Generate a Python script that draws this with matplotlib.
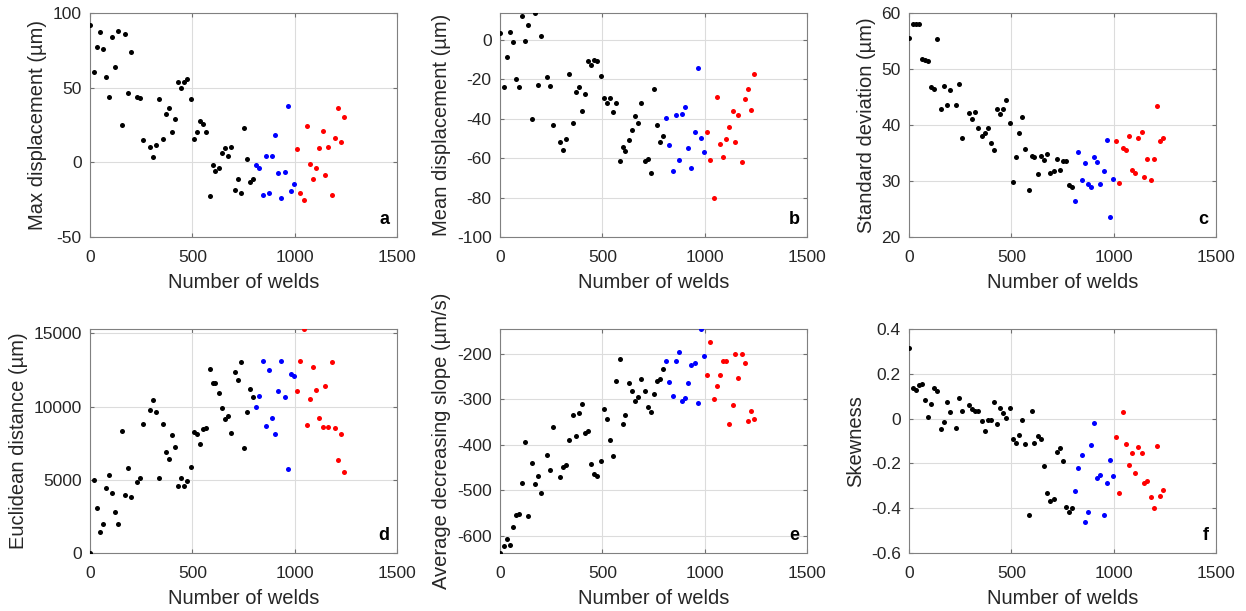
import matplotlib
matplotlib.use("Agg")
import matplotlib.pyplot as plt
from matplotlib.ticker import FormatStrFormatter

plt.rcParams['font.family'] = ['Liberation Sans', 'DejaVu Sans']
plt.rcParams['axes.unicode_minus'] = False

# weld counts: first 51 black, next 13 blue, last 16 red
welds = [0, 18, 33, 48, 63, 78, 93, 108, 123, 138, 157, 172, 186, 201, 231, 246, 261,
         293, 309, 324, 339, 355, 369, 384, 399, 413, 431, 446, 461, 476, 492, 507, 522,
         538, 552, 569, 584, 599, 613, 630, 643, 659, 675, 690, 708, 722, 737, 753, 768,
         783, 798,
         812, 827, 845, 861, 876, 890, 905, 920, 935, 951, 966, 982, 998,
         1013, 1028, 1044, 1059, 1074, 1088, 1103, 1119, 1136, 1150, 1165, 1181, 1196,
         1211, 1227, 1242]
n_black, n_blue = 51, 13

max_disp = [92, 60.8, 77, 87, 75.8, 57.3, 43.5, 84.2, 63.8, 87.8, 24.9, 86.1, 46.1, 74,
            43.9, 42.9, 15, 10.3, 3.7, 11.4, 42.2, 15.3, 32.5, 36.2, 20, 28.9, 53.8, 49.7,
            54, 55.8, 42.7, 15.8, 20.5, 27.8, 25.5, 20.5, -22.6, -1.8, -5.7, -3.6, 6.5,
            9.4, 4.3, 10.4, -18.8, -11.2, -20.7, 22.8, 2.3, -13, -11,
            -1.9, -3.7, -21.6, 4, -20.5, 4.4, 18.5, -7, -23.8, -6.4, 38, -18.9, -14.4,
            8.7, -20.5, -25.2, 24.6, -1.2, -11, -3.7, 9.4, 20.9, -8.6, 10.2, -22.2, 16,
            36.6, 13.8, 30.6]

mean_disp = [3.4, -23.8, -8.6, 3.7, -1.2, -19.9, -24.2, 11.8, -0.7, 7.4, -40.4, 13.5, -23,
             2, -18.9, -23.3, -43.1, -52, -56.1, -50.3, -17.6, -42.4, -26.4, -23.8, -36,
             -27.5, -10.6, -12.7, -10.3, -11, -18.2, -29.6, -32.1, -29.6, -36.7, -32.3,
             -61.3, -54.4, -56.6, -50.7, -45.6, -38.9, -42.1, -32.3, -61.3, -60.6, -67.7,
             -25.2, -43.4, -51.7, -48.6,
             -39.5, -53.5, -66.4, -38.3, -61.1, -37.5, -34.1, -54.7, -65, -46.8, -14.5,
             -49.8, -57.1,
             -47, -61.1, -80.2, -28.9, -52.7, -59.5, -50.3, -44.4, -36.1, -52, -38, -62.2,
             -30.1, -25.2, -35.6, -17.2]

std_dev = [55.6, 58.1, 58.1, 58.1, 51.8, 51.6, 51.4, 46.8, 46.5, 55.4, 42.9, 47, 43.6,
           46.3, 43.5, 47.4, 37.7, 42.2, 41, 42.4, 39.4, 38.1, 38.6, 39.4, 36.8, 35.6,
           42.8, 41.9, 42.8, 44.4, 40.3, 29.8, 34.2, 38.6, 41.4, 35.7, 28.4, 34.4, 34.2,
           31.3, 34.4, 33.7, 34.9, 31.4, 31.7, 33.9, 32, 33.5, 33.5, 29.2, 28.9,
           26.5, 35.1, 30.1, 33.2, 29.5, 29, 34.3, 33.4, 29.4, 31.7, 37.4, 23.5, 30.4,
           37.1, 29.6, 35.9, 35.6, 38, 32, 31.4, 37.7, 38.7, 30.7, 34, 30.2, 34, 43.4,
           37.1, 37.7]

eucl_dist = [0, 5000, 3090, 1410, 1960, 4440, 5350, 4110, 2800, 1990, 8340, 3950, 5820,
             3800, 4850, 5130, 8840, 9770, 10430, 9600, 5140, 8840, 6930, 6430, 8050,
             7270, 4550, 5110, 4560, 4930, 5860, 8250, 8160, 7450, 8480, 8520, 12600,
             11590, 11640, 10910, 9910, 9140, 9360, 8200, 12360, 11830, 13060, 7160, 9660,
             11220, 10660,
             10000, 10700, 13140, 8700, 12480, 9200, 8160, 11050, 13140, 10640, 5750,
             12200, 12090,
             11090, 13110, 15300, 8770, 10550, 12680, 11140, 9200, 8610, 11430, 8610,
             13020, 8520, 6320, 8160, 5520]

avg_slope = [-637, -622.6, -607.3, -619.7, -581, -553.3, -551.1, -482.5, -392.7, -555.5,
             -439.4, -485.4, -467.9, -504.4, -422.6, -454.7, -359.9, -470.1, -448.2,
             -444.5, -389.1, -335, -380.3, -330.7, -311, -374.5, -370.1, -440.9, -464.2,
             -469.3, -435.8, -320.4, -343.8, -388.3, -423.4, -260.6, -211, -354, -335,
             -264.2, -281.8, -303.6, -295.6, -255.5, -281.8, -317.5, -327.7, -287.6,
             -259.9, -254.7, -233.6,
             -216.8, -262.8, -293.4, -216.1, -197.1, -303.6, -297, -265, -225.5, -220.4,
             -308, -146, -205.1,
             -247.4, -175.2, -298.5, -271.5, -246.7, -216.1, -216.8, -354.7, -311.7,
             -201.5, -254, -201.5, -220.4, -348.2, -324.8, -342.3]

skewness = [0.315, 0.138, 0.126, 0.15, 0.153, 0.082, 0.006, 0.064, 0.135, 0.123, -0.045,
            -0.017, 0.076, 0.028, -0.044, 0.09, 0.033, 0.061, 0.045, 0.032, 0.034, -0.01,
            -0.054, -0.007, -0.007, 0.076, -0.022, 0.046, 0.027, 0.002, 0.048, -0.093,
            -0.107, -0.072, -0.005, -0.115, -0.43, 0.035, -0.107, -0.078, -0.093, -0.212,
            -0.331, -0.366, -0.36, -0.147, -0.132, -0.191, -0.396, -0.418, -0.398,
            -0.325, -0.222, -0.161, -0.46, -0.416, -0.118, -0.019, -0.267, -0.254,
            -0.431, -0.288, -0.187, -0.258,
            -0.084, -0.33, 0.031, -0.115, -0.207, -0.152, -0.245, -0.127, -0.155, -0.288,
            -0.279, -0.352, -0.4, -0.121, -0.345, -0.319]

panels = [
    (max_disp, "Max displacement (µm)", (-50, 100), [-50, 0, 50, 100], "a"),
    (mean_disp, "Mean displacement (µm)", (-100, 13.5), [-100, -80, -60, -40, -20, 0], "b"),
    (std_dev, "Standard deviation (µm)", (20, 60), [20, 30, 40, 50, 60], "c"),
    (eucl_dist, "Euclidean distance (µm)", (0, 15300), [0, 5000, 10000, 15000], "d"),
    (avg_slope, "Average decreasing slope (µm/s)", (-637, -146), [-600, -500, -400, -300, -200], "e"),
    (skewness, "Skewness", (-0.6, 0.4), [-0.6, -0.4, -0.2, 0, 0.2, 0.4], "f"),
]

W, H = 1246, 611
fig = plt.figure(figsize=(W / 100, H / 100), dpi=100)
lefts = [90, 500, 909]
tops = [13, 329]
aw, ah = 307, 224
text_col = "#262626"

for i, (vals, ylab, ylim, yticks, letter) in enumerate(panels):
    l = lefts[i % 3]
    t = tops[i // 3]
    ax = fig.add_axes([l / W, 1 - (t + ah) / H, aw / W, ah / H])
    groups = [(0, n_black, "black"), (n_black, n_black + n_blue, "#0000ff"),
              (n_black + n_blue, len(welds), "#ff0000")]
    for s, e, c in groups:
        ax.scatter(welds[s:e], vals[s:e], s=13, color=c, linewidths=0, zorder=3)
    ax.set_xlim(0, 1500)
    ax.set_ylim(*ylim)
    ax.set_xticks([0, 500, 1000, 1500])
    ax.set_yticks(yticks)
    ax.yaxis.set_major_formatter(FormatStrFormatter('%g'))
    ax.grid(True, color="#dcdcdc", linewidth=0.8)
    ax.set_axisbelow(True)
    ax.tick_params(direction="in", length=3, top=True, right=True, labelsize=12.5,
                   labelcolor=text_col, color="#707070")
    ax.tick_params(axis="x", pad=9)
    ax.tick_params(axis="y", pad=6)
    for sp in ax.spines.values():
        sp.set_color("#808080")
        sp.set_linewidth(0.8)
    ax.set_xlabel("Number of welds", fontsize=14.5, color=text_col, labelpad=6)
    ax.set_ylabel(ylab, fontsize=14.5, color=text_col, labelpad=4)
    ax.text(0.975, 0.04, letter, transform=ax.transAxes, ha="right", va="bottom",
            fontsize=13, fontweight="bold", color="black")

fig.savefig("out.png", dpi=100)
